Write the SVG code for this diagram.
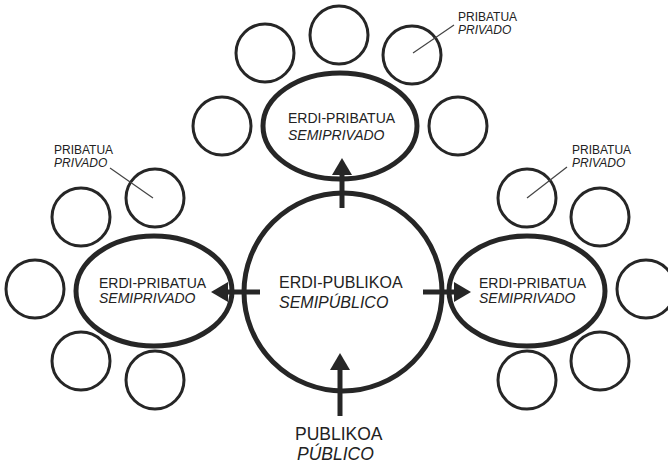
<svg xmlns="http://www.w3.org/2000/svg" width="668" height="467" viewBox="0 0 668 467">
<defs>
<style>
.big{fill:none;stroke:#262626;stroke-width:5}
.sm{fill:none;stroke:#262626;stroke-width:3}
.t{font-family:"Liberation Sans",Arial,sans-serif;fill:#222}
.i{font-style:italic}
.lead{stroke:#444;stroke-width:1.2;fill:none}
.shaft{stroke:#262626;stroke-width:5;fill:none}
.head{fill:#262626}
</style>
</defs>
<rect width="668" height="467" fill="#fff"/>
<g id="center">
<circle class="big" cx="343" cy="292" r="99"/>
<text class="t" x="279" y="288" font-size="16">ERDI-PUBLIKOA</text>
<text class="t i" x="279" y="308" font-size="16">SEMIPÚBLICO</text>
</g>
<g id="top">
<ellipse class="big" cx="340" cy="126" rx="77" ry="53"/>
<text class="t" x="288" y="123" font-size="14">ERDI-PRIBATUA</text>
<text class="t i" x="288" y="140" font-size="14">SEMIPRIVADO</text>
</g>
<g id="left">
<ellipse class="big" cx="154" cy="291" rx="78" ry="55"/>
<text class="t" x="99" y="288" font-size="14">ERDI-PRIBATUA</text>
<text class="t i" x="99" y="303" font-size="14">SEMIPRIVADO</text>
</g>
<g id="right">
<ellipse class="big" cx="527" cy="291" rx="78" ry="55"/>
<text class="t" x="479" y="288" font-size="14">ERDI-PRIBATUA</text>
<text class="t i" x="479" y="303" font-size="14">SEMIPRIVADO</text>
</g>
<g id="public">
<text class="t" x="295" y="440" font-size="17.5">PUBLIKOA</text>
<text class="t i" x="297" y="460" font-size="17.5">PÚBLICO</text>
</g>
<g id="private-top">
<circle class="sm" cx="265" cy="53" r="29"/>
<circle class="sm" cx="339" cy="35" r="29"/>
<circle class="sm" cx="412" cy="55" r="29"/>
<circle class="sm" cx="222" cy="126" r="29"/>
<circle class="sm" cx="458" cy="126" r="29"/>
<line class="lead" x1="454" y1="25" x2="413" y2="53"/>
<text class="t" x="458" y="21" font-size="12">PRIBATUA</text>
<text class="t i" x="458" y="34" font-size="12">PRIVADO</text>
</g>
<g id="private-left">
<circle class="sm" cx="155" cy="198" r="29"/>
<circle class="sm" cx="81" cy="217" r="29"/>
<circle class="sm" cx="35" cy="289" r="29"/>
<circle class="sm" cx="81" cy="361" r="29"/>
<circle class="sm" cx="155" cy="380" r="29"/>
<line class="lead" x1="110" y1="168" x2="153" y2="198"/>
<text class="t" x="54" y="154" font-size="12">PRIBATUA</text>
<text class="t i" x="54" y="167" font-size="12">PRIVADO</text>
</g>
<g id="private-right">
<circle class="sm" cx="527" cy="198" r="29"/>
<circle class="sm" cx="600" cy="217" r="29"/>
<circle class="sm" cx="646" cy="289" r="29"/>
<circle class="sm" cx="600" cy="361" r="29"/>
<circle class="sm" cx="527" cy="380" r="29"/>
<line class="lead" x1="567" y1="167" x2="527" y2="198"/>
<text class="t" x="572" y="154" font-size="12">PRIBATUA</text>
<text class="t i" x="572" y="167" font-size="12">PRIVADO</text>
</g>
<g id="connectors">
<line class="shaft" x1="342" y1="208" x2="342" y2="173"/>
<polygon class="head" points="342,158 332,175 352,175"/>
<line class="shaft" x1="260" y1="292" x2="227" y2="292"/>
<polygon class="head" points="211,292 228,282 228,302"/>
<line class="shaft" x1="423" y1="292" x2="456" y2="292"/>
<polygon class="head" points="471,292 454,282 454,302"/>
<line class="shaft" x1="340" y1="416" x2="340" y2="368"/>
<polygon class="head" points="340,353 330,370 350,370"/>
</g>
</svg>
